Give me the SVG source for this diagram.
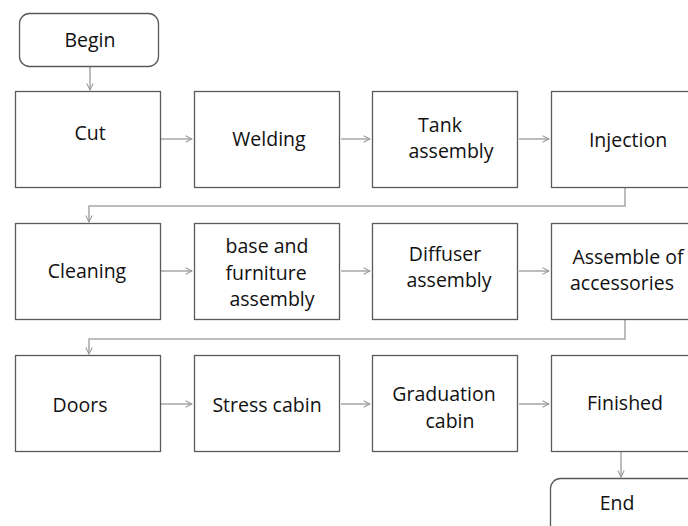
<svg xmlns="http://www.w3.org/2000/svg" width="688" height="526" viewBox="0 0 688 526">
<defs>
<marker id="arr" viewBox="0 0 10 10" refX="9" refY="5" markerWidth="8" markerHeight="8" orient="auto" markerUnits="userSpaceOnUse">
<path d="M1,1 L9,5 L1,9" fill="none" stroke="#9a9a9a" stroke-width="1.3"/>
</marker>
</defs>
<style>
.box{fill:#ffffff;stroke:#5a5a5a;stroke-width:1.3}
.term{fill:#ffffff;stroke:#5a5a5a;stroke-width:1.3}
.lbl{font-family:"Open Sans","Liberation Sans",sans-serif;font-size:19.5px;fill:#111111;text-anchor:middle}
.con{fill:none;stroke:#a6a6a6;stroke-width:1.5;marker-end:url(#arr)}
</style>
<rect width="688" height="526" fill="#ffffff"/>
<g id="connectors">
<path class="con" d="M90,67 V90"/>
<path class="con" d="M161,139 H192"/>
<path class="con" d="M341,139 H370"/>
<path class="con" d="M519,139 H549"/>
<path class="con" d="M625,188 V206 H89 V222"/>
<path class="con" d="M161,271 H192"/>
<path class="con" d="M341,271 H370"/>
<path class="con" d="M519,271 H549"/>
<path class="con" d="M625,320 V339 H89 V354"/>
<path class="con" d="M161,404 H192"/>
<path class="con" d="M341,404 H370"/>
<path class="con" d="M519,404 H549"/>
<path class="con" d="M621,452 V477"/>
</g>
<g id="begin"><rect class="term" x="19.5" y="13.5" width="139" height="53" rx="10"/><text class="lbl" x="90" y="47">Begin</text></g>
<g id="cut"><rect class="box" x="15.5" y="91.5" width="145" height="96"/><text class="lbl" x="90" y="140">Cut</text></g>
<g id="welding"><rect class="box" x="194.5" y="91.5" width="145" height="96"/><text class="lbl" x="269" y="146">Welding</text></g>
<g id="tank"><rect class="box" x="372.5" y="91.5" width="145" height="96"/><text class="lbl" x="440" y="132">Tank</text><text class="lbl" x="451" y="158">assembly</text></g>
<g id="injection"><rect class="box" x="551.5" y="91.5" width="145" height="96"/><text class="lbl" x="628" y="147">Injection</text></g>
<g id="cleaning"><rect class="box" x="15.5" y="223.5" width="145" height="96"/><text class="lbl" x="87" y="278">Cleaning</text></g>
<g id="base"><rect class="box" x="194.5" y="223.5" width="145" height="96"/><text class="lbl" x="267" y="253">base and</text><text class="lbl" x="266" y="280">furniture</text><text class="lbl" x="272" y="306">assembly</text></g>
<g id="diffuser"><rect class="box" x="372.5" y="223.5" width="145" height="96"/><text class="lbl" x="445" y="261">Diffuser</text><text class="lbl" x="449" y="287">assembly</text></g>
<g id="accessories"><rect class="box" x="551.5" y="223.5" width="145" height="96"/><text class="lbl" x="628" y="264">Assemble of</text><text class="lbl" x="622" y="290">accessories</text></g>
<g id="doors"><rect class="box" x="15.5" y="355.5" width="145" height="96"/><text class="lbl" x="80" y="412">Doors</text></g>
<g id="stress"><rect class="box" x="194.5" y="355.5" width="145" height="96"/><text class="lbl" x="267" y="412">Stress cabin</text></g>
<g id="graduation"><rect class="box" x="372.5" y="355.5" width="145" height="96"/><text class="lbl" x="444" y="401">Graduation</text><text class="lbl" x="450" y="428">cabin</text></g>
<g id="finished"><rect class="box" x="551.5" y="355.5" width="145" height="96"/><text class="lbl" x="625" y="410">Finished</text></g>
<g id="end"><rect class="term" x="550.5" y="478.5" width="150" height="60" rx="10"/><text class="lbl" x="617" y="510">End</text></g>
</svg>
